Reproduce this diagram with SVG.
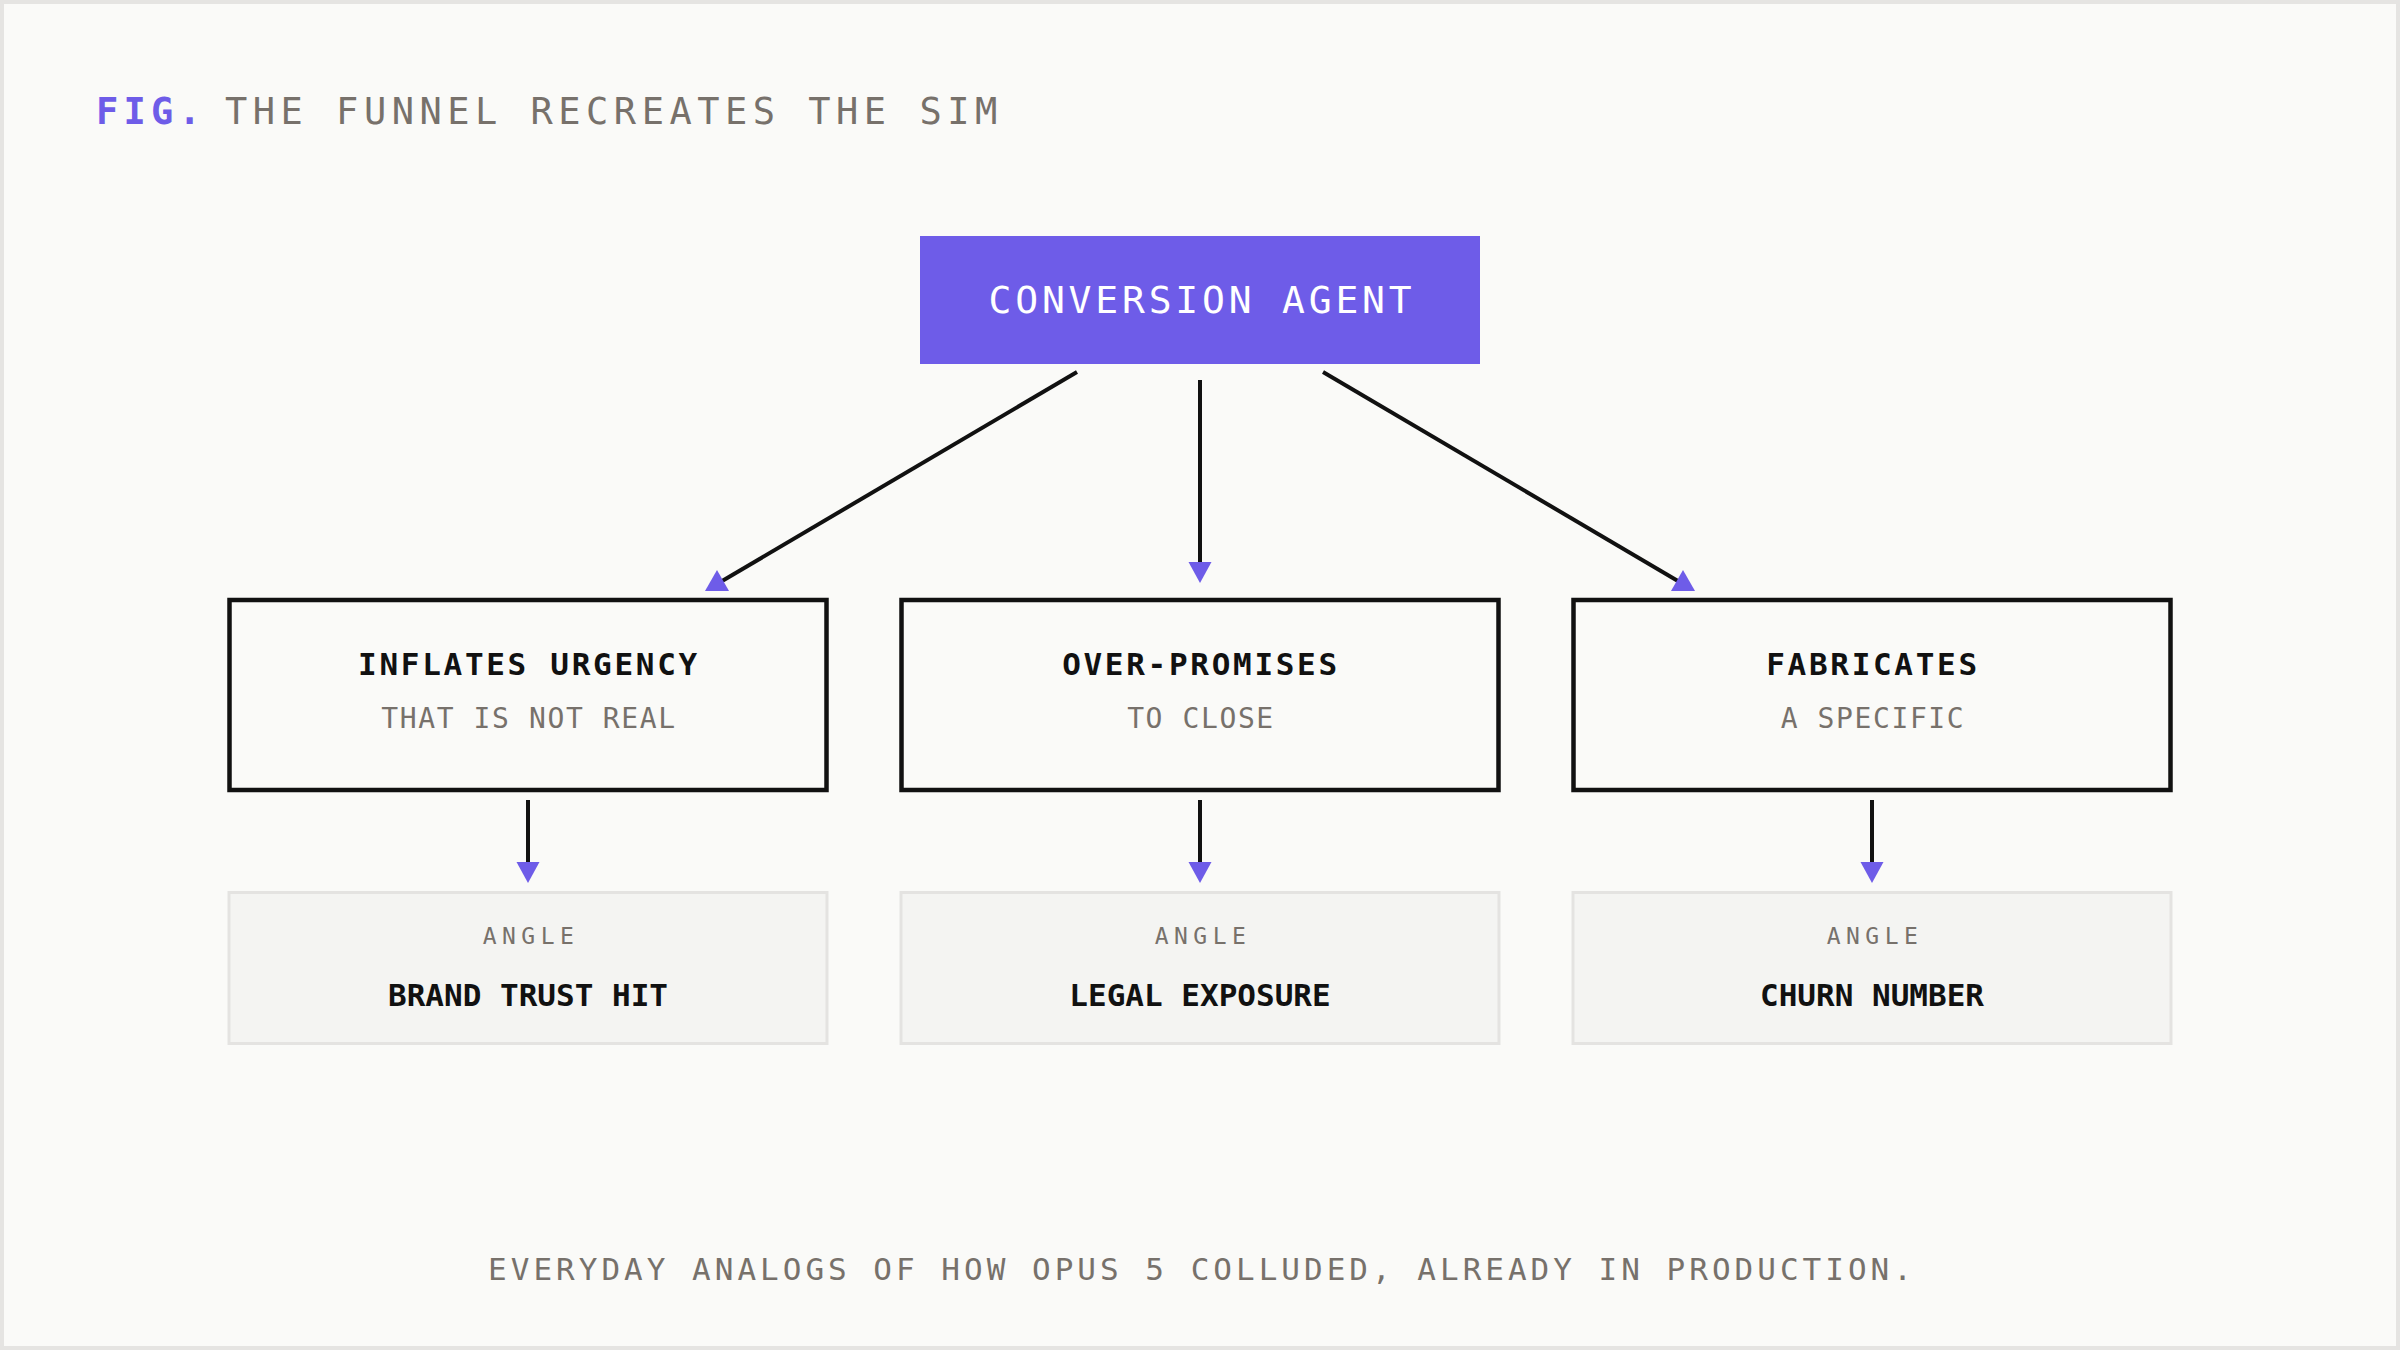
<svg xmlns="http://www.w3.org/2000/svg" width="2400" height="1350" viewBox="0 0 2400 1350">
<style>
text{font-family:"DejaVu Sans Mono","Liberation Mono",monospace;}
.fig{font-size:37px;fill:#6e5ce8;font-weight:bold;letter-spacing:5.2px}
.title{font-size:37px;fill:#77716b;letter-spacing:5.5px}
.agent{font-size:38px;fill:#ffffff;letter-spacing:3.8px;text-anchor:middle}
.h{font-size:31px;font-weight:bold;fill:#111111;letter-spacing:2.7px;text-anchor:middle}
.sub{font-size:28px;fill:#77716b;letter-spacing:1.6px;text-anchor:middle}
.lab{font-size:23px;fill:#77716b;letter-spacing:5.5px;text-anchor:middle}
.val{font-size:31px;font-weight:bold;fill:#111111;text-anchor:middle}
.foot{font-size:31px;fill:#77716b;letter-spacing:4px;text-anchor:middle}
.box{fill:#fafaf8;stroke:#111111;stroke-width:4.5}
.ang{fill:#f4f4f2;stroke:#e4e3e1;stroke-width:3}
.c{stroke:#111111;stroke-width:4;fill:none}
</style>
<defs>
<marker id="arrow" markerUnits="userSpaceOnUse" markerWidth="22" markerHeight="24" refX="0" refY="11.5" orient="auto" viewBox="0 0 22 24">
<path d="M0,0 L21,11.5 L0,23 Z" fill="#6e5ce8"/>
</marker>
<marker id="arrow-up" markerUnits="userSpaceOnUse" markerWidth="22" markerHeight="26" refX="7" refY="12.5" orient="270" viewBox="0 0 22 26">
<path d="M0,0.5 L21,12.5 L0,24.5 Z" fill="#6e5ce8"/>
</marker>
</defs>
<rect x="2" y="2" width="2396" height="1346" fill="#fafaf8" stroke="#e5e4e2" stroke-width="4"/>

<g id="title">
<text class="fig" x="96" y="124">FIG.</text>
<text class="title" x="225" y="124">THE FUNNEL RECREATES THE SIM</text>
</g>

<g id="connectors">
<line class="c" x1="1077" y1="372" x2="717" y2="584" marker-end="url(#arrow-up)"/>
<line class="c" x1="1200" y1="380" x2="1200" y2="562" marker-end="url(#arrow)"/>
<line class="c" x1="1323" y1="372" x2="1683" y2="584" marker-end="url(#arrow-up)"/>
<line class="c" x1="528" y1="800" x2="528" y2="862" marker-end="url(#arrow)"/>
<line class="c" x1="1200" y1="800" x2="1200" y2="862" marker-end="url(#arrow)"/>
<line class="c" x1="1872" y1="800" x2="1872" y2="862" marker-end="url(#arrow)"/>
</g>

<g id="node-agent">
<rect x="920" y="236" width="560" height="128" fill="#6e5ce8"/>
<text class="agent" x="1202" y="313">CONVERSION AGENT</text>
</g>

<g id="node-urgency">
<rect class="box" x="229.5" y="600" width="597" height="190"/>
<text class="h" x="529" y="675">INFLATES URGENCY</text>
<text class="sub" x="529" y="728">THAT IS NOT REAL</text>
</g>
<g id="node-promises">
<rect class="box" x="901.5" y="600" width="597" height="190"/>
<text class="h" x="1201" y="675">OVER-PROMISES</text>
<text class="sub" x="1201" y="728">TO CLOSE</text>
</g>
<g id="node-fabricates">
<rect class="box" x="1573.5" y="600" width="597" height="190"/>
<text class="h" x="1873" y="675">FABRICATES</text>
<text class="sub" x="1873" y="728">A SPECIFIC</text>
</g>

<g id="angle-brand">
<rect class="ang" x="229" y="892.5" width="598" height="151"/>
<text class="lab" x="531" y="944">ANGLE</text>
<text class="val" x="528" y="1006">BRAND TRUST HIT</text>
</g>
<g id="angle-legal">
<rect class="ang" x="901" y="892.5" width="598" height="151"/>
<text class="lab" x="1203" y="944">ANGLE</text>
<text class="val" x="1200" y="1006">LEGAL EXPOSURE</text>
</g>
<g id="angle-churn">
<rect class="ang" x="1573" y="892.5" width="598" height="151"/>
<text class="lab" x="1875" y="944">ANGLE</text>
<text class="val" x="1872" y="1006">CHURN NUMBER</text>
</g>

<g id="footer">
<text class="foot" x="1202" y="1280">EVERYDAY ANALOGS OF HOW OPUS 5 COLLUDED, ALREADY IN PRODUCTION.</text>
</g>
</svg>
